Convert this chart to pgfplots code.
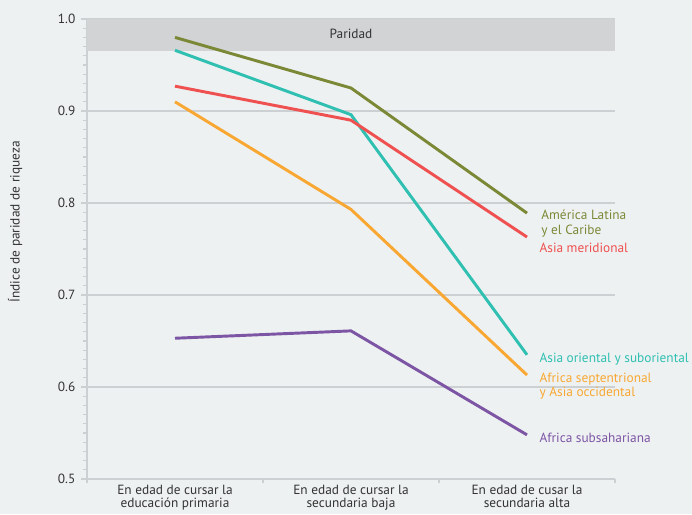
\documentclass[border=0pt]{standalone}
\usepackage{pgfplots}
\pgfplotsset{compat=1.18}
\usepackage{fontspec}
\setmainfont{PT Sans}
\definecolor{bg}{HTML}{EEF1F2}
\definecolor{band}{HTML}{D1D3D4}
\definecolor{gridc}{HTML}{CDD0D2}
\definecolor{olive}{HTML}{7B8937}
\definecolor{teal}{HTML}{2FC0B2}
\definecolor{redc}{HTML}{EF5050}
\definecolor{orangec}{HTML}{F8A832}
\definecolor{purplec}{HTML}{7D55A5}
\definecolor{txt}{HTML}{333333}
\begin{document}
\begin{tikzpicture}[x=0.75pt,y=0.75pt]
\path[use as bounding box, fill=bg] (-87,-35) rectangle (605,479);
\begin{axis}[
  at={(0,0)}, anchor=south west,
  scale only axis, width=396pt, height=345pt,
  xmin=-0.5, xmax=2.5, ymin=0.5, ymax=1.0,
  axis lines=left, axis line style={-, draw=gridc, line width=1pt},
  xtick={0,1,2},
  xticklabels={En edad de cursar la\\educación primaria, En edad de cursar la\\secundaria baja, En edad de cusar la\\secundaria alta},
  xticklabel style={align=center, font=\fontsize{10}{9.6}\selectfont, text=txt, yshift=1.5pt, inner sep=2pt},
  major x tick style={draw=none},
  minor xtick={-0.5,0.5,1.5,2.5},
  minor x tick style={draw=gridc, line width=1pt},
  minor tick length=3.2pt,
  ytick={0.5,0.6,0.7,0.8,0.9,1.0},
  minor y tick num=9,
  major y tick style={draw=gridc, line width=1pt},
  minor y tick style={draw=gridc, line width=0.8pt},
  major tick length=4.2pt,
  tick align=outside,
  /pgf/number format/assume math mode=true,
  yticklabel style={/pgf/number format/fixed, /pgf/number format/fixed zerofill, /pgf/number format/precision=1},
  yticklabel style={font=\fontsize{10}{11}\selectfont, text=txt, xshift=-1pt},
  ymajorgrids, major grid style={draw=gridc, line width=1pt},
  ylabel={Índice de paridad de riqueza},
  ylabel style={at={(axis description cs:-0.136,0.559)}, anchor=center, font=\fontsize{10}{11}\selectfont, text=txt},
  clip=false,
]
\fill[band] (axis cs:-0.5,0.965) rectangle (axis cs:2.5,1.0);
\node[text=txt, font=\fontsize{10}{11}\selectfont] at (axis cs:1,0.984) {Paridad};
\addplot[olive, line width=2.2pt] coordinates {(0,0.980) (1,0.925) (2,0.789)};
\addplot[teal, line width=2.2pt] coordinates {(0,0.966) (1,0.896) (2,0.635)};
\addplot[redc, line width=2.2pt] coordinates {(0,0.927) (1,0.890) (2,0.763)};
\addplot[orangec, line width=2.2pt] coordinates {(0,0.910) (1,0.793) (2,0.613)};
\addplot[purplec, line width=2.2pt] coordinates {(0,0.653) (1,0.661) (2,0.548)};
\begin{scope}[every node/.style={anchor=west, align=left, font=\fontsize{10}{11}\selectfont, inner sep=0pt}]
\node[text=olive] at (axis cs:2.08,0.778) {América Latina\\y el Caribe};
\node[text=redc] at (axis cs:2.07,0.751) {Asia meridional};
\node[text=teal] at (axis cs:2.07,0.630) {Asia oriental y suboriental};
\node[text=orangec] at (axis cs:2.07,0.601) {Africa septentrional\\y Asia occidental};
\node[text=purplec] at (axis cs:2.07,0.545) {Africa subsahariana};
\end{scope}
\end{axis}
\end{tikzpicture}
\end{document}
